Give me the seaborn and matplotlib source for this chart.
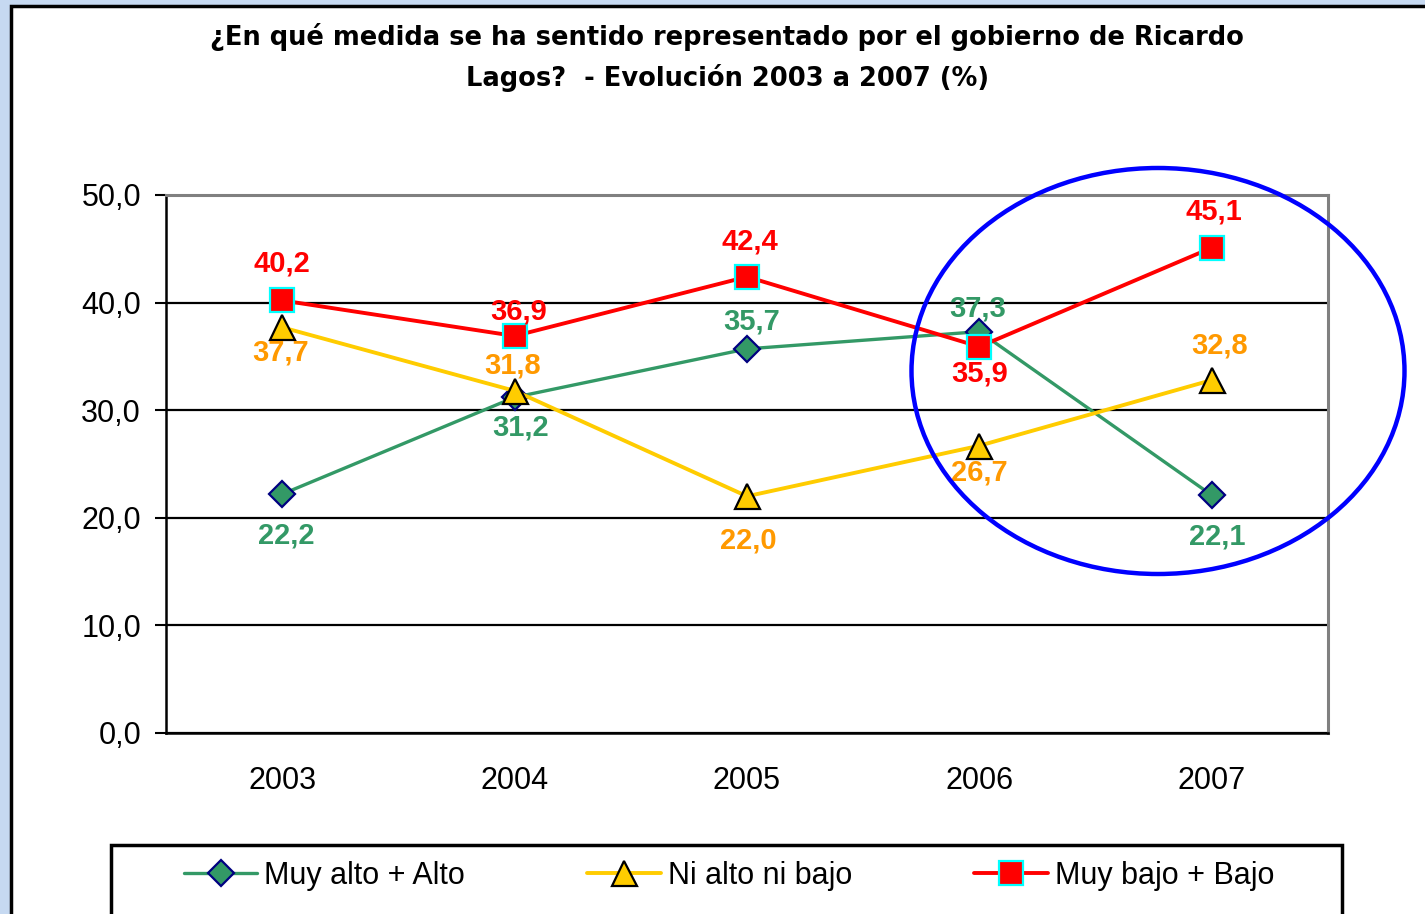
import matplotlib
matplotlib.use("Agg")
import matplotlib.pyplot as plt
from matplotlib.patches import Ellipse, Rectangle
import seaborn as sns

years = ["2003", "2004", "2005", "2006", "2007"]
muy_alto_alto = [22.2, 31.2, 35.7, 37.3, 22.1]
ni_alto_ni_bajo = [37.7, 31.8, 22.0, 26.7, 32.8]
muy_bajo_bajo = [40.2, 36.9, 42.4, 35.9, 45.1]
series_names = ["Muy alto + Alto", "Ni alto ni bajo", "Muy bajo + Bajo"]
y_ticks = [0, 10, 20, 30, 40, 50]

# styles per series: line colour, label colour, marker, size, edge colour, line width
styles = [
    dict(color="#339966", text="#339966", marker="D", ms=13, mec="#000080", lw=2.4),
    dict(color="#FFCC00", text="#FF9900", marker="^", ms=18, mec="black", lw=2.8),
    dict(color="#FF0000", text="#FF0000", marker="s", ms=17, mec="#00FFFF", lw=2.8),
]
# data label offsets in pixels (dx, dy up)
label_offsets = [
    [(4, -41), (6, -30), (5, 27), (-2, 23), (5, -41)],
    [(-2, -25), (-2, 25), (1, -44), (0, -27), (8, 35)],
    [(0, 37), (4, 24), (3, 35), (0, -27), (2, 36)],
]

sns.set_theme(style="white")
plt.rcParams["font.family"] = ["Liberation Sans", "DejaVu Sans"]
plt.rcParams["text.color"] = "black"
plt.rcParams["xtick.color"] = "black"
plt.rcParams["ytick.color"] = "black"

fig = plt.figure(figsize=(14.25, 9.14), dpi=100)
fig.patch.set_facecolor("#C6D9F1")

# white chart area with black border
fig.add_artist(Rectangle((11 / 1425, -0.1), 1.2, 1 - 6 / 914 + 0.1,
                         transform=fig.transFigure, facecolor="white",
                         edgecolor="black", lw=2.5, zorder=-1))

ax = fig.add_axes([166 / 1425, 1 - 733 / 914, (1328 - 166) / 1425, (733 - 195) / 914])
ax.set_facecolor("white")

all_values = [muy_alto_alto, ni_alto_ni_bajo, muy_bajo_bajo]
for name, vals, st, offs in zip(series_names, all_values, styles, label_offsets):
    sns.lineplot(x=years, y=vals, ax=ax, color=st["color"], marker=st["marker"],
                 markersize=st["ms"], markeredgecolor=st["mec"], markeredgewidth=1.6,
                 markerfacecolor=st["color"], linewidth=st["lw"], label=name,
                 legend=False, sort=False)
    for i, v in enumerate(vals):
        ax.annotate(f"{v:.1f}".replace(".", ","), (i, v),
                    xytext=offs[i], textcoords="offset pixels",
                    ha="center", va="center", color=st["text"],
                    fontsize=21, fontweight="bold", zorder=6)

ax.set_xlim(-0.5, 4.5)
ax.set_ylim(0, 50)
ax.set_yticks(y_ticks)
ax.set_yticklabels([f"{t:.1f}".replace(".", ",") for t in y_ticks], fontsize=22)
ax.set_xticks(range(len(years)))
ax.set_xticklabels(years, fontsize=22)
ax.set_xticks([i - 0.5 for i in range(len(years) + 1)], minor=True)
ax.tick_params(axis="x", which="major", length=0, pad=24)
ax.tick_params(axis="x", which="minor", length=9, width=1.5, color="black", direction="out")
ax.tick_params(axis="y", length=8, width=1.5, color="black", direction="out", pad=10, left=True)
ax.set_xlabel("")
ax.set_ylabel("")

ax.set_axisbelow(True)
ax.yaxis.grid(True, color="black", lw=1.6)
ax.xaxis.grid(False)
for side in ["left", "bottom"]:
    ax.spines[side].set_color("black")
    ax.spines[side].set_linewidth(1.8)
for side in ["top", "right"]:
    ax.spines[side].set_color("#808080")
    ax.spines[side].set_linewidth(2.2)

title_font = dict(ha="center", va="center", fontsize=18.5, fontweight="bold",
                  family="DejaVu Sans", color="black")
fig.text(727 / 1425, 1 - 37 / 914,
         "¿En qué medida se ha sentido representado por el gobierno de Ricardo",
         **title_font)
fig.text(728 / 1425, 1 - 78 / 914, "Lagos?  - Evolución 2003 a 2007 (%)", **title_font)

# blue highlight ellipse
fig.add_artist(Ellipse((1158 / 1425, 1 - 371 / 914), 493 / 1425, 406 / 914,
                       transform=fig.transFigure, fill=False,
                       edgecolor="#0000FF", lw=3.2, zorder=5))

# legend box
fig.add_artist(Rectangle((111 / 1425, -0.1), (1342 - 111) / 1425, 0.1 + 1 - 845 / 914,
                         transform=fig.transFigure, facecolor="white",
                         edgecolor="black", lw=2.5, zorder=1))
handles, labels = ax.get_legend_handles_labels()
leg = fig.legend(handles, labels, loc="center", bbox_to_anchor=(729 / 1425, 1 - 876 / 914),
                 ncol=3, frameon=False, fontsize=22, handlelength=2.4,
                 handletextpad=0.23, columnspacing=4.0)
for t in leg.get_texts():
    t.set_color("black")

fig.savefig("out.png", dpi=100, facecolor=fig.get_facecolor())
